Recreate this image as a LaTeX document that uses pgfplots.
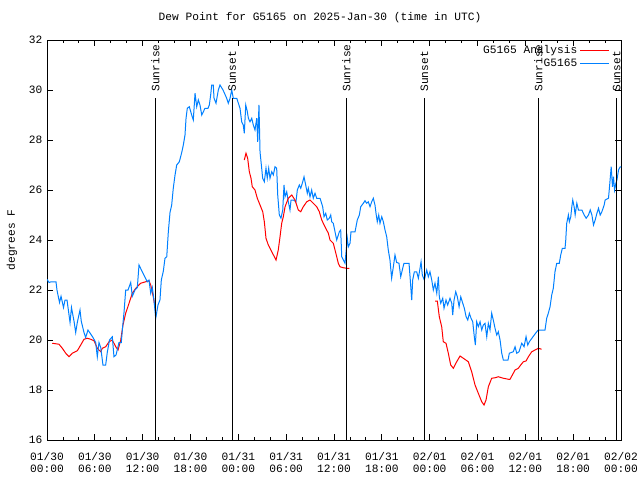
\documentclass[border=0pt]{standalone}
\usepackage{fontspec}
\setmainfont{Liberation Mono}
\usepackage{pgfplots}
\usepackage{pgfplotstable}
\pgfplotsset{compat=1.18}
\definecolor{gblue}{RGB}{0,128,255}
\definecolor{gred}{RGB}{255,0,0}

\pgfplotstableread{
h v
0.00 22.43
0.25 22.30
0.54 22.33
0.88 22.33
1.13 22.33
1.25 22.00
1.57 21.50
1.76 21.75
2.07 21.30
2.26 21.60
2.51 21.60
2.89 20.70
3.07 21.30
3.39 20.75
3.60 20.30
3.80 20.70
4.14 21.20
4.30 20.75
4.64 20.30
4.85 20.10
5.14 20.40
5.77 20.10
6.11 19.90
6.31 19.33
6.52 19.90
6.74 19.70
7.02 19.00
7.36 19.00
7.56 19.50
7.84 20.00
8.19 20.13
8.40 19.33
8.66 19.40
9.03 19.90
9.32 19.90
9.45 20.40
9.66 21.10
9.87 22.00
10.16 22.00
10.50 22.30
10.70 21.75
11.04 22.00
11.33 22.10
11.54 23.00
12.04 22.67
12.58 22.33
12.79 22.40
13.01 21.87
13.21 22.10
13.42 21.60
13.64 20.87
13.92 21.40
14.17 21.60
14.34 22.40
14.59 22.75
14.80 23.27
15.02 23.33
15.22 24.33
15.43 25.10
15.64 25.40
15.84 26.07
16.06 26.60
16.27 27.00
16.60 27.13
16.90 27.50
17.10 27.80
17.31 28.20
17.44 28.87
17.60 29.27
17.85 29.33
18.15 29.00
18.35 28.80
18.57 29.87
18.78 29.33
18.98 29.60
19.19 29.40
19.41 29.00
19.61 29.13
19.82 29.27
20.20 29.27
20.36 29.40
20.53 29.80
20.66 30.20
20.86 30.20
20.95 29.67
21.20 29.47
21.49 30.00
21.70 30.20
22.08 30.00
22.54 29.67
22.74 29.47
22.96 29.67
23.17 30.00
23.37 29.67
23.80 29.67
24.21 29.27
24.42 28.73
24.62 28.60
24.75 28.27
24.93 29.40
25.13 29.13
25.26 28.87
25.46 28.73
25.68 28.87
25.88 28.60
26.09 28.40
26.31 28.87
26.43 27.93
26.59 29.40
26.72 27.53
26.93 26.87
27.05 26.47
27.26 26.33
27.47 26.87
27.63 26.47
27.81 26.87
27.97 26.47
28.19 26.73
28.39 26.60
28.60 26.93
28.81 26.87
28.94 25.80
29.14 25.00
29.35 24.87
29.57 25.20
29.73 26.20
29.86 25.73
30.07 25.93
30.27 25.53
30.48 25.20
30.61 25.60
30.90 25.60
31.23 25.53
31.40 26.00
31.65 26.20
31.83 26.07
32.08 26.33
32.24 26.53
32.45 26.20
32.65 25.87
32.78 26.07
32.99 25.73
33.20 26.00
33.40 25.67
33.62 25.87
33.83 25.67
34.25 25.67
34.58 25.33
34.75 24.93
34.96 25.07
35.16 24.80
35.41 24.87
35.59 25.00
35.71 24.73
35.91 24.67
36.34 24.00
36.67 24.33
36.84 24.40
36.97 23.33
37.38 23.07
37.67 24.07
37.80 23.73
38.01 23.87
38.13 24.33
38.64 24.33
38.92 24.80
39.18 25.00
39.35 25.33
39.68 25.47
39.89 25.57
40.10 25.47
40.30 25.53
40.52 25.33
40.73 25.53
40.93 25.67
41.14 25.40
41.27 25.07
41.43 24.73
41.61 25.00
41.77 24.67
41.99 24.93
42.19 24.73
42.40 24.40
42.61 24.13
42.81 23.60
43.02 23.20
43.23 22.47
43.43 22.90
43.65 23.40
43.86 23.10
44.15 23.07
44.37 22.53
44.62 22.87
44.78 23.07
45.41 23.07
45.54 22.53
45.75 21.60
45.87 22.40
46.08 22.73
46.37 22.73
46.58 22.47
46.79 22.87
46.92 23.13
47.08 22.60
47.33 22.40
47.63 22.80
47.83 22.53
48.04 22.73
48.26 22.40
48.46 22.00
48.67 22.27
48.89 21.87
49.09 22.53
49.21 21.73
49.39 21.47
49.64 21.67
49.80 21.27
50.05 21.60
50.26 21.40
50.55 21.67
50.77 21.47
50.89 21.00
51.06 21.60
51.27 21.93
51.47 21.73
51.69 21.33
51.90 21.73
52.15 21.47
52.35 21.27
52.57 20.93
52.78 20.80
52.98 21.07
53.19 20.87
53.40 20.73
53.60 20.13
53.73 19.80
53.90 20.73
54.10 20.53
54.32 20.73
54.53 20.40
54.73 20.60
54.94 20.67
55.16 20.13
55.36 20.67
55.57 20.40
55.78 21.07
55.98 20.80
56.20 20.47
56.41 20.20
56.61 20.33
56.83 20.00
57.04 19.47
57.24 19.20
57.83 19.20
57.99 19.47
58.49 19.53
58.71 19.73
58.92 19.47
59.21 19.53
59.55 19.87
59.84 19.73
60.09 20.13
60.30 19.80
60.50 19.93
60.96 20.13
61.43 20.33
61.63 20.40
62.47 20.40
62.68 20.87
62.88 21.07
63.10 21.33
63.31 21.80
63.51 22.07
63.72 22.73
63.94 23.07
64.26 23.07
64.44 23.40
64.64 23.67
64.98 23.67
65.07 24.00
65.19 24.67
65.40 25.00
65.52 24.73
65.70 24.93
65.83 25.33
65.95 25.60
66.12 25.33
66.25 25.00
66.46 25.47
66.66 25.20
67.09 25.20
67.38 25.00
67.63 24.87
67.92 25.00
68.14 25.20
68.35 25.00
68.55 24.60
68.76 24.80
68.98 25.07
69.18 25.27
69.39 25.00
69.60 25.13
69.89 25.40
70.01 25.60
70.43 25.67
70.56 26.13
70.77 26.93
70.93 26.13
71.06 26.53
71.19 26.00
71.36 26.27
71.49 26.40
71.69 26.80
71.90 26.93
72.00 26.93
}\obsdata

\pgfplotstableread{
h v
0.66 19.87
1.51 19.83
1.92 19.67
2.35 19.47
2.76 19.33
3.17 19.47
3.80 19.57
4.23 19.80
4.64 20.03
5.06 20.07
5.48 20.03
5.90 19.97
6.31 19.67
6.74 19.53
6.94 19.67
7.36 19.73
7.78 19.93
8.19 20.00
8.62 19.73
8.91 19.60
9.25 20.00
9.53 20.60
9.87 21.07
10.29 21.47
10.70 21.87
11.13 22.07
11.75 22.27
12.38 22.33
12.79 22.37
13.01 22.20
13.33 21.73
13.64 21.13
}\anaA

\pgfplotstableread{
h v
24.75 27.20
24.96 27.47
25.17 27.27
25.38 26.73
25.59 26.47
25.75 26.13
26.09 26.00
26.38 25.67
26.72 25.40
27.06 25.13
27.26 24.73
27.47 24.07
27.76 23.80
28.19 23.53
28.73 23.20
29.01 23.60
29.23 24.13
29.44 24.67
29.64 24.93
29.86 25.33
30.27 25.67
30.70 25.80
31.11 25.60
31.52 25.20
31.83 25.13
32.15 25.33
32.58 25.53
32.99 25.60
33.40 25.47
33.83 25.33
34.16 25.13
34.46 24.80
34.87 24.53
35.29 24.27
35.50 24.00
35.91 23.87
36.13 23.60
36.34 23.33
36.54 23.07
36.75 22.93
37.17 22.89
37.60 22.87
37.92 22.87
}\anaB

\pgfplotstableread{
h v
48.67 21.56
48.96 21.56
49.21 20.93
49.51 20.53
49.71 19.93
50.05 19.87
50.34 19.47
50.64 19.00
50.97 18.87
51.39 19.13
51.81 19.36
52.22 19.27
52.85 19.13
53.27 18.73
53.69 18.20
54.10 17.87
54.53 17.53
54.82 17.40
55.07 17.60
55.36 18.13
55.78 18.47
56.20 18.49
56.61 18.53
57.24 18.47
57.87 18.43
58.08 18.43
58.49 18.67
58.71 18.80
59.12 18.87
59.42 19.00
59.75 19.13
60.09 19.16
60.38 19.33
60.80 19.53
61.22 19.60
61.63 19.67
62.04 19.63
}\anaC

\begin{document}
\begin{tikzpicture}[font=\fontsize{8.4}{10}\selectfont]
\path[use as bounding box] (-35.25pt,-30pt) rectangle (444.75pt,330pt);
\begin{axis}[
  at={(0pt,0pt)}, anchor=south west,
  scale only axis, width=430.5pt, height=300pt,
  xmin=0, xmax=72, ymin=16, ymax=32,
  xtick={0,6,...,72},
  xticklabels={{01/30\\00:00},{01/30\\06:00},{01/30\\12:00},{01/30\\18:00},
               {01/31\\00:00},{01/31\\06:00},{01/31\\12:00},{01/31\\18:00},
               {02/01\\00:00},{02/01\\06:00},{02/01\\12:00},{02/01\\18:00},
               {02/02\\00:00}},
  minor x tick num=2,
  ytick={16,18,...,32},
  tick align=inside,
  major tick length=4.5pt, minor tick length=2.5pt,
  tick style={black, line width=0.6pt},
  axis line style={line width=0.75pt},
  /pgf/number format/assume math mode=true,
  xticklabel style={align=center, font=\fontsize{8.4}{9.4}\selectfont, yshift=-5.5pt},
  yticklabel style={font=\fontsize{8.4}{10}\selectfont},
  legend plot pos=right,
  legend cell align=right,
  legend style={at={(0.983,0.998)}, anchor=north east, draw=none, fill=none,
    font=\fontsize{8.4}{9.4}\selectfont, row sep=-1.5pt, inner sep=1pt},
]
\addlegendimage{legend image code/.code={\draw[gred, line width=0.75pt] (0pt,0pt) -- (21.5pt,0pt);}}
\addlegendentry{G5165 Analysis}
\addlegendimage{legend image code/.code={\draw[gblue, line width=0.75pt] (0pt,0pt) -- (21.5pt,0pt);}}
\addlegendentry{G5165}
\addplot[gred, line width=0.75pt, forget plot] table[x=h, y=v] {\anaA};
\addplot[gblue, line width=0.75pt, forget plot] table[x=h, y=v] {\obsdata};
\addplot[gred, line width=0.75pt, forget plot] table[x=h, y=v] {\anaB};
\addplot[gred, line width=0.75pt, forget plot] table[x=h, y=v] {\anaC};

\addplot[black, line width=0.75pt, forget plot] coordinates {(13.59,16) (13.59,29.68)};
\addplot[black, line width=0.75pt, forget plot] coordinates {(23.24,16) (23.24,29.68)};
\addplot[black, line width=0.75pt, forget plot] coordinates {(37.55,16) (37.55,29.68)};
\addplot[black, line width=0.75pt, forget plot] coordinates {(47.33,16) (47.33,29.68)};
\addplot[black, line width=0.75pt, forget plot] coordinates {(61.63,16) (61.63,29.68)};
\addplot[black, line width=0.75pt, forget plot] coordinates {(71.46,16) (71.46,29.68)};

\node[rotate=90, anchor=west, inner sep=0pt] at (axis cs:13.59,29.93) {Sunrise};
\node[rotate=90, anchor=west, inner sep=0pt] at (axis cs:23.24,29.93) {Sunset};
\node[rotate=90, anchor=west, inner sep=0pt] at (axis cs:37.55,29.93) {Sunrise};
\node[rotate=90, anchor=west, inner sep=0pt] at (axis cs:47.33,29.93) {Sunset};
\node[rotate=90, anchor=west, inner sep=0pt] at (axis cs:61.63,29.93) {Sunrise};
\node[rotate=90, anchor=west, inner sep=0pt] at (axis cs:71.46,29.93) {Sunset};
\end{axis}
\node at (204.75pt,316.5pt) {Dew Point for G5165 on 2025-Jan-30 (time in UTC)};
\node[rotate=90] at (-26.25pt,150pt) {degrees F};
\end{tikzpicture}
\end{document}
